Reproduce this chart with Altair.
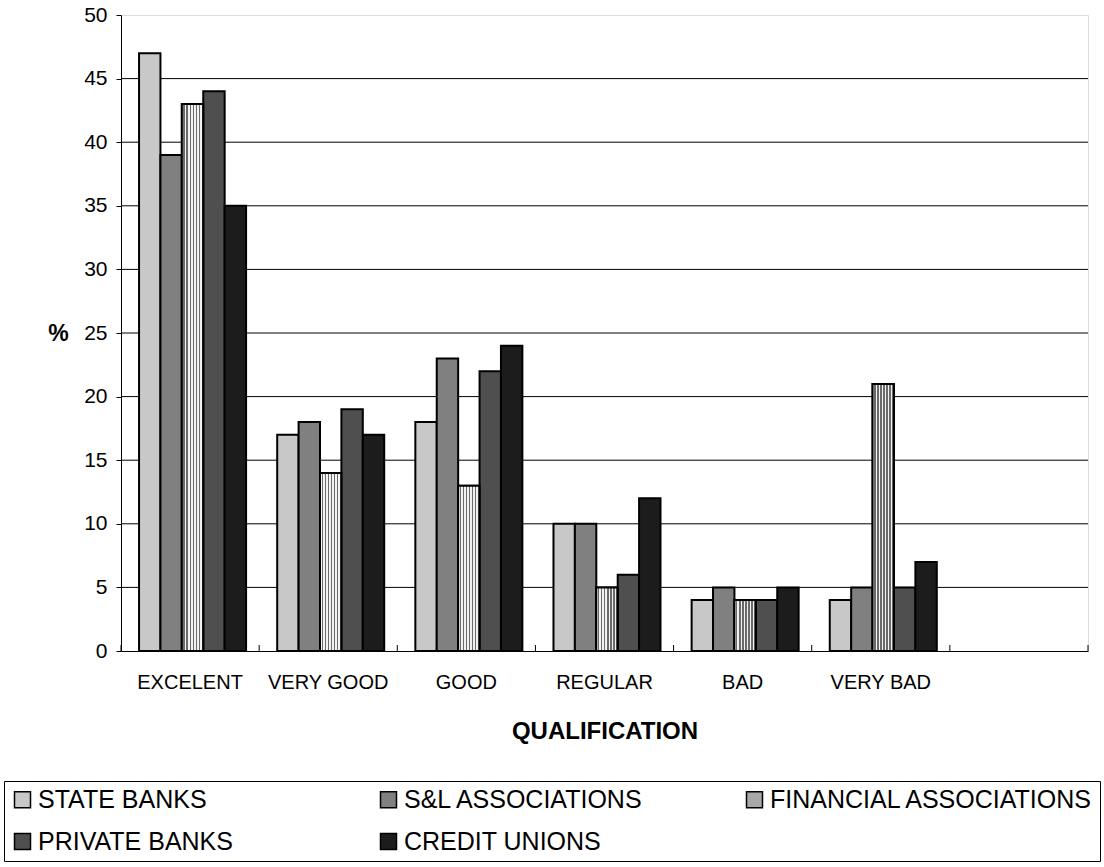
import altair as alt
import pandas as pd

# Survey results: rating of each type of institution, in percent
categories = ["EXCELENT", "VERY GOOD", "GOOD", "REGULAR", "BAD", "VERY BAD"]
x_domain = categories + [""]  # one empty slot at the right end of the axis
series = ["STATE BANKS", "S&L ASSOCIATIONS", "FINANCIAL ASSOCIATIONS",
          "PRIVATE BANKS", "CREDIT UNIONS"]
state_banks = [47, 17, 18, 10, 4, 4]
sl_associations = [39, 18, 23, 10, 5, 5]
financial_associations = [43, 14, 13, 5, 4, 21]
private_banks = [44, 19, 22, 6, 4, 5]
credit_unions = [35, 17, 24, 12, 5, 7]
y_ticks = [0, 5, 10, 15, 20, 25, 30, 35, 40, 45, 50]
grid_values = [5, 10, 15, 20, 25, 30, 35, 40, 45]

fills = ["#c8c8c8", "#808080", "#a8a8a8", "#4f4f4f", "#1c1c1c"]
FONT = "Liberation Sans"
W, H = 967, 636

rows = []
for name, vals in zip(series, [state_banks, sl_associations, financial_associations,
                               private_banks, credit_unions]):
    for cat, v in zip(categories, vals):
        rows.append({"qualification": cat, "institution": name, "pct": v})
df = pd.DataFrame(rows)

x_scale = alt.Scale(domain=x_domain, paddingInner=0, paddingOuter=0)
y_scale = alt.Scale(domain=[0, 50], nice=False)
off_scale = alt.Scale(domain=series, paddingInner=0, paddingOuter=0.727, align=0.58)

x_axis = alt.Axis(
    ticks=False, grid=False, domainColor="black", domainWidth=1,
    labelFontSize=20, labelColor="black", labelFont=FONT, labelPadding=21, labelAngle=0,
    title="QUALIFICATION", titleFontSize=24, titleFont=FONT, titleFontWeight="bold",
    titleColor="black", titleY=87, titleBaseline="alphabetic",
)
y_axis = alt.Axis(
    values=y_ticks, grid=False, domainColor="black", domainWidth=1,
    tickColor="black", tickSize=5, labelFontSize=21, labelColor="black",
    labelFont=FONT, labelPadding=9,
    title="%", titleAngle=0, titleFontSize=23, titleFont=FONT, titleFontWeight="bold",
    titleColor="black", titleX=-63, titleY=318, titleAlign="center", titleBaseline="middle",
)


def x_enc(**kw):
    return alt.X("qualification:N", scale=x_scale, axis=x_axis, **kw)


def y_enc():
    return alt.Y("pct:Q", scale=y_scale, axis=y_axis)


x_off = alt.XOffset("institution:N", scale=off_scale)

# horizontal gridlines
grid = alt.Chart(pd.DataFrame({"pct": grid_values})).mark_rule(
    color="black", strokeWidth=1
).encode(y=y_enc(), x=alt.value(0), x2=alt.value(W))

legend = alt.Legend(
    orient="none", legendX=-117, legendY=766, direction="horizontal", columns=3,
    title=None, symbolType="square", symbolSize=256, symbolStrokeColor="black",
    symbolStrokeWidth=1.5, symbolOpacity=1, labelFontSize=25, labelFont=FONT,
    labelColor="black", labelOffset=3, columnPadding=14, rowPadding=16, padding=6,
    strokeColor="black", gridAlign="all", labelLimit=0,
)

bars = alt.Chart(df).mark_bar(stroke="black", strokeWidth=2, opacity=1).encode(
    x=x_enc(),
    xOffset=x_off,
    y=y_enc(),
    fill=alt.Fill("institution:N", scale=alt.Scale(domain=series, range=fills), legend=legend),
)

# vertical stripe fill for the financial associations bars
stops = []
n_stripes = 7
for i in range(n_stripes):
    a, m, b = i / n_stripes, (i + 0.5) / n_stripes, (i + 1) / n_stripes
    stops += [
        alt.GradientStop(color="#f2f2f2", offset=a),
        alt.GradientStop(color="#f2f2f2", offset=m),
        alt.GradientStop(color="#6a6a6a", offset=m),
        alt.GradientStop(color="#6a6a6a", offset=b),
    ]
stripes = alt.LinearGradient(gradient="linear", stops=stops, x1=0, x2=1, y1=0, y2=0)

fin_bars = alt.Chart(df).transform_filter(
    alt.datum.institution == "FINANCIAL ASSOCIATIONS"
).mark_bar(fill=stripes, stroke="black", strokeWidth=2, opacity=1).encode(
    x=x_enc(), xOffset=x_off, y=y_enc()
)

# small upward ticks at category boundaries
ticks = alt.Chart(pd.DataFrame({"qualification": x_domain})).mark_rule(
    color="black", strokeWidth=1
).encode(x=x_enc(bandPosition=0), y=alt.value(H - 6), y2=alt.value(H))
end_tick = alt.Chart(pd.DataFrame({"qualification": [""]})).mark_rule(
    color="black", strokeWidth=1
).encode(x=x_enc(bandPosition=1), y=alt.value(H - 6), y2=alt.value(H))

chart = alt.layer(grid, bars, fin_bars, ticks, end_tick).properties(
    width=W, height=H,
    autosize=alt.AutoSizeParams(type="none"),
    padding={"left": 121, "top": 15, "right": 16, "bottom": 216},
    background="white",
).configure_view(stroke=None).configure(font=FONT)

chart.save("out.html", embed_options={"renderer": "svg", "actions": False})
